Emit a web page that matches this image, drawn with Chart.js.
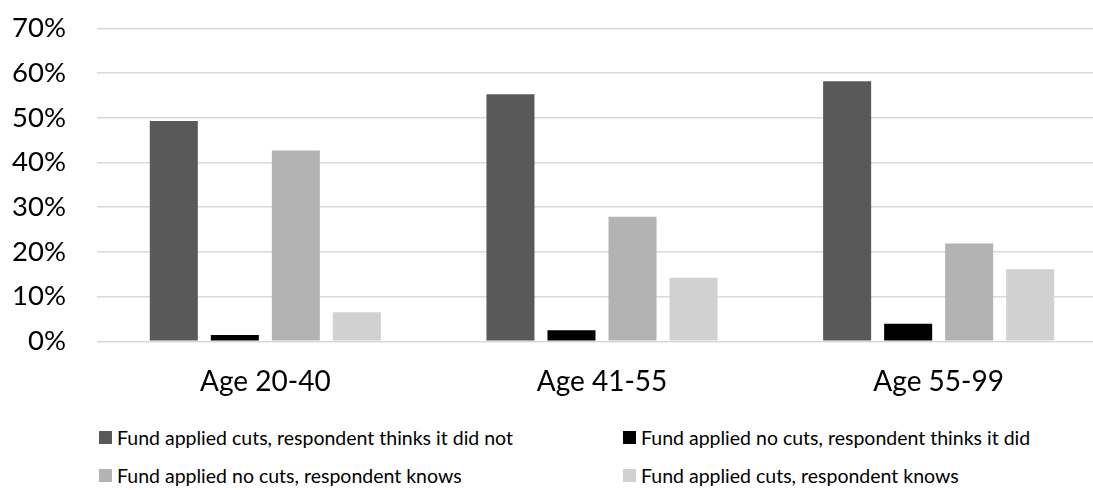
<!DOCTYPE html>
<html>
<head>
<meta charset="utf-8">
<script src="https://cdn.jsdelivr.net/npm/chart.js@4.4.1/dist/chart.umd.min.js"></script>
<style>
  html, body { margin: 0; padding: 0; background: #ffffff; overflow: hidden; width: 1093px; height: 490px; }
  #wrap { position: absolute; left: 0; top: -19px; width: 1107px; height: 419px; }
  .legend { position: absolute; font-family: Lato, "Open Sans", sans-serif; font-size: 19.5px; color: #000; white-space: nowrap; }
  .legend .sw { position: absolute; left: 0; top: 0; width: 13px; height: 13px; }
  .legend .tx { position: absolute; top: -5px; line-height: 24px; }
</style>
</head>
<body>
<div id="wrap"><canvas id="c"></canvas></div>
<div id="legend"></div>
<script>
const categories = ['Age 20-40', 'Age 41-55', 'Age 55-99'];
const seriesNames = [
  'Fund applied cuts, respondent thinks it did not',
  'Fund applied no cuts, respondent thinks it did',
  'Fund applied no cuts, respondent knows',
  'Fund applied cuts, respondent knows'
];
const cutsThinksNot = [49.3, 55.3, 58.2];
const noCutsThinksDid = [1.4, 2.5, 3.9];
const noCutsKnows = [42.7, 27.9, 21.9];
const cutsKnows = [6.5, 14.2, 16.1];
const yTickValues = [0, 10, 20, 30, 40, 50, 60, 70];
const seriesColors = ['#595959', '#000000', '#b3b3b3', '#d1d1d1'];
const seriesData = [cutsThinksNot, noCutsThinksDid, noCutsKnows, cutsKnows];

const datasets = seriesNames.map((name, i) => ({
  label: name,
  data: seriesData[i],
  backgroundColor: seriesColors[i],
  borderWidth: 0,
  categoryPercentage: 0.725,
  barPercentage: 0.787
}));

new Chart(document.getElementById('c'), {
  type: 'bar',
  data: { labels: categories, datasets },
  options: {
    responsive: true,
    maintainAspectRatio: false,
    animation: false,
    layout: { padding: { top: 9, right: 0, bottom: 0, left: 0 } },
    plugins: { legend: { display: false }, tooltip: { enabled: false } },
    scales: {
      x: {
        grid: { display: false, drawTicks: false },
        border: { display: false },
        ticks: { color: '#000', font: { family: 'Lato', size: 28 }, padding: 24 },
        afterFit: (s) => { s.height = 58.7; }
      },
      y: {
        min: 0, max: 70,
        afterBuildTicks: (s) => { s.ticks = yTickValues.map(v => ({ value: v })); },
        grid: { color: '#d9d9d9', lineWidth: 1.5, drawTicks: false },
        border: { display: false },
        ticks: { color: '#000', font: { family: 'Lato', size: 27.5 }, padding: 31, callback: (v) => v + '%' },
        afterFit: (s) => { s.width = 97; }
      }
    }
  }
});

const legendPos = [[99, 431], [623, 431], [99, 469], [623, 469]];
const lg = document.getElementById('legend');
seriesNames.forEach((name, i) => {
  const d = document.createElement('div');
  d.className = 'legend';
  d.style.left = legendPos[i][0] + 'px';
  d.style.top = legendPos[i][1] + 'px';
  d.innerHTML = '<div class="sw" style="background:' + seriesColors[i] + '"></div><div class="tx" style="left:18px">' + name + '</div>';
  lg.appendChild(d);
});
</script>
</body>
</html>
